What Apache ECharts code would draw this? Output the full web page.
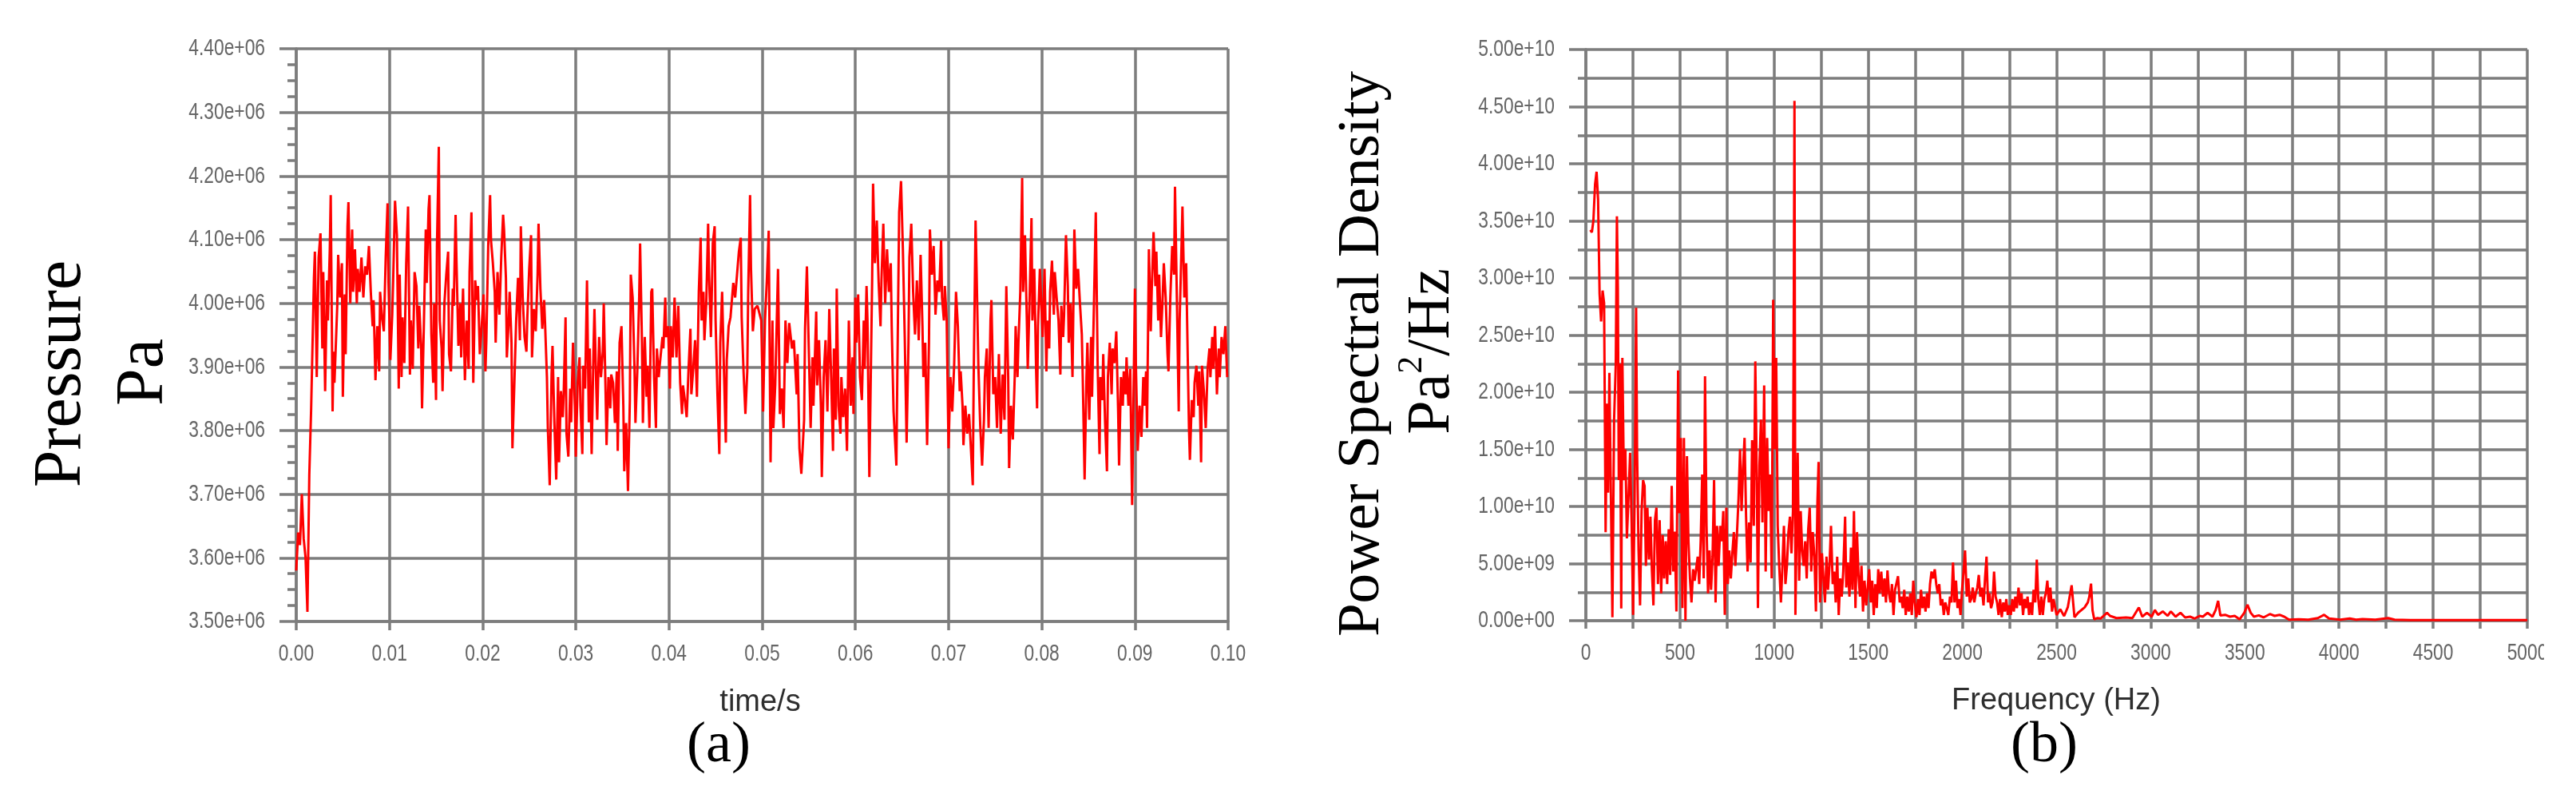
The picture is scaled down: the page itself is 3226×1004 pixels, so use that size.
<!DOCTYPE html>
<html><head><meta charset="utf-8">
<script src="https://cdn.jsdelivr.net/npm/echarts@6/dist/echarts.min.js"></script>
<style>html,body{margin:0;padding:0;background:#fff}#c{width:3226px;height:1004px}</style>
</head><body><div id="c"></div>
<script>
// ---------- (a) pressure vs time ----------
const timeMs = [
0,0.2,0.4,0.6,0.8,1.0,1.2,1.4,1.6,1.9,
2.0,2.2,2.4,2.6,2.8,2.9,3.1,3.3,3.4,3.6,
3.7,3.9,4.0,4.1,4.4,4.5,4.7,4.9,5.0,5.2,
5.3,5.5,5.6,5.8,6.0,6.1,6.3,6.5,6.6,6.8,
7.0,7.2,7.4,7.6,7.8,8.0,8.2,8.3,8.5,8.7,
8.9,9.0,9.2,9.4,9.6,9.8,9.9,10.1,10.3,10.4,
10.6,10.8,11.0,11.1,11.3,11.4,11.6,11.8,12.0,12.2,
12.3,12.5,12.7,12.9,13.1,13.2,13.4,13.5,13.7,13.9,
14.0,14.2,14.3,14.5,14.7,14.8,15.0,15.1,15.3,15.4,
15.6,15.7,15.9,16.1,16.3,16.4,16.6,16.8,16.9,17.1,
17.2,17.4,17.6,17.7,17.9,18.1,18.3,18.5,18.6,18.8,
19.0,19.2,19.4,19.5,19.7,19.9,20.1,20.3,20.4,20.6,
20.8,20.9,21.1,21.3,21.4,21.6,21.8,22.0,22.2,22.3,
22.5,22.6,22.8,22.9,23.1,23.2,23.4,23.6,23.8,24.0,
24.1,24.3,24.5,24.7,24.8,25.0,25.2,25.3,25.5,25.7,
25.9,26.0,26.2,26.4,26.6,26.7,26.9,27.0,27.2,27.4,
27.5,27.7,27.9,28.1,28.2,28.4,28.6,28.7,28.9,29.0,
29.2,29.4,29.5,29.7,29.9,30.0,30.2,30.4,30.5,30.7,
30.8,31.0,31.2,31.4,31.5,31.7,31.9,32.0,32.2,32.3,
32.5,32.7,32.9,33.0,33.2,33.3,33.5,33.7,33.8,34.0,
34.2,34.4,34.5,34.7,34.9,35.1,35.2,35.4,35.6,35.8,
35.9,36.1,36.3,36.4,36.6,36.8,36.9,37.1,37.2,37.4,
37.6,37.7,37.9,38.1,38.2,38.4,38.6,38.7,38.9,39.0,
39.3,39.4,39.6,39.7,39.9,40.1,40.2,40.4,40.6,40.8,
41.0,41.2,41.4,41.5,41.7,41.9,42.1,42.3,42.4,42.6,
42.8,43.0,43.2,43.4,43.5,43.7,43.8,44.0,44.2,44.3,
44.5,44.7,44.9,45.0,45.2,45.4,45.5,45.7,45.9,46.1,
46.2,46.4,46.6,46.8,46.9,47.1,47.3,47.5,47.7,47.8,
48.0,48.2,48.4,48.5,48.7,48.8,49.0,49.2,49.5,49.9,
50.1,50.3,50.5,50.7,50.9,51.1,51.2,51.4,51.7,51.9,
52.1,52.3,52.5,52.7,52.9,53.2,53.4,53.7,53.8,54.0,
54.2,54.5,54.6,54.8,55.0,55.2,55.4,55.5,55.8,55.9,
56.1,56.3,56.4,56.6,56.8,57.0,57.2,57.4,57.6,57.7,
57.9,58.0,58.2,58.4,58.5,58.7,58.9,59.1,59.3,59.5,
59.7,59.8,60.0,60.1,60.3,60.5,60.7,60.9,61.0,61.2,
61.3,61.5,61.8,61.9,62.1,62.3,62.5,62.7,62.8,63.0,
63.2,63.4,63.6,63.8,63.9,64.1,64.4,64.5,64.7,64.9,
65.1,65.3,65.5,65.7,65.8,66.0,66.2,66.4,66.6,66.8,
67.0,67.2,67.3,67.5,67.7,67.9,68.0,68.2,68.4,68.6,
68.8,69.0,69.2,69.3,69.5,69.6,69.8,70.0,70.2,70.4,
70.6,70.8,71.0,71.2,71.3,71.5,71.6,71.8,72.0,72.2,
72.4,72.6,72.7,72.9,73.0,73.2,73.4,73.6,73.8,73.9,
74.1,74.3,74.5,74.6,74.8,75.0,75.2,75.4,75.6,75.8,
76.0,76.2,76.4,76.5,76.7,76.9,77.1,77.2,77.4,77.5,
77.7,77.9,78.0,78.2,78.4,78.5,78.7,78.9,79.0,79.2,
79.4,79.5,79.6,79.8,80.0,80.1,80.3,80.5,80.6,80.8,
80.9,81.1,81.3,81.4,81.6,81.8,82.0,82.1,82.3,82.4,
82.6,82.8,82.9,83.1,83.3,83.5,83.7,83.9,84.1,84.3,
84.4,84.6,84.8,84.9,85.1,85.3,85.4,85.6,85.8,86.0,
86.2,86.3,86.5,86.6,86.8,87.0,87.1,87.3,87.5,87.6,
87.8,88.0,88.2,88.3,88.5,88.7,88.8,89.0,89.1,89.3,
89.5,89.7,89.8,90.0,90.1,90.3,90.5,90.7,90.9,91.0,
91.2,91.3,91.5,91.7,91.8,92.0,92.2,92.3,92.5,92.6,
92.8,93.0,93.1,93.3,93.5,93.6,93.8,94.0,94.2,94.3,
94.5,94.7,94.8,95.0,95.1,95.3,95.5,95.6,95.8,95.9,
96.1,96.3,96.4,96.6,96.8,96.9,97.1,97.2,97.4,97.6,
97.8,98.0,98.1,98.3,98.4,98.6,98.8,99.0,99.1,99.3,
99.5,99.7,99.9
];
// pressure in units of 1e+06 Pa
const pressureE6 = [
3.58,3.64,3.62,3.70,3.63,3.60,3.515,3.73,3.835,4.040,
4.081,3.884,4.072,4.110,3.929,4.049,3.862,4.036,3.973,4.085,
4.170,3.830,3.924,3.875,3.996,4.076,4.009,4.063,3.853,4.014,
3.920,4.121,4.159,4.000,4.116,4.018,4.085,4.000,4.054,4.018,
4.072,4.009,4.058,4.045,4.090,4.018,3.964,4.005,3.879,3.964,
3.893,4.018,3.978,3.956,4.072,4.157,4.032,3.911,3.982,4.036,
4.161,4.107,3.866,4.045,3.884,3.978,3.906,4.063,4.152,3.888,
3.973,3.897,4.049,4.027,3.929,3.996,3.933,3.835,3.969,4.116,
4.032,4.148,4.170,3.951,3.875,4.000,3.848,4.090,4.246,3.973,
3.929,3.862,4.000,4.045,4.081,3.920,3.893,4.023,3.996,4.139,
4.063,3.933,4.000,3.915,4.023,3.879,3.973,3.897,4.049,4.143,
3.875,4.036,4.005,4.027,3.920,3.964,4.014,3.893,3.942,4.090,
4.170,4.099,4.063,4.018,3.938,4.049,3.982,4.072,4.139,4.116,
4.040,3.915,3.973,4.018,3.938,3.772,3.871,3.973,4.040,3.942,
4.121,4.009,3.947,3.924,3.978,4.054,4.107,3.915,3.991,3.956,
4.045,4.125,4.023,3.960,4.005,3.969,3.884,3.804,3.714,3.888,
3.933,3.813,3.723,3.884,3.750,3.862,3.821,3.857,3.978,3.795,
3.759,3.866,3.813,3.938,3.839,3.759,3.875,3.915,3.839,3.763,
3.902,3.866,4.036,3.813,3.929,3.763,3.929,3.991,3.866,3.817,
3.947,3.884,3.924,4.000,3.857,3.777,3.884,3.835,3.888,3.875,
3.812,3.893,3.768,3.938,3.964,3.839,3.736,3.812,3.705,3.848,
4.045,4.009,3.897,3.812,3.893,4.009,4.094,3.938,3.812,3.947,
3.853,3.902,3.804,4.018,4.023,3.884,3.804,3.929,3.884,3.902,
3.947,3.929,4.009,3.947,3.964,3.866,3.964,3.915,4.009,3.915,
3.996,3.875,3.826,3.871,3.848,3.821,3.897,3.960,3.857,3.897,
3.942,3.853,4.018,4.103,3.973,4.018,3.942,4.000,4.125,4.045,
3.947,4.094,4.121,3.973,3.857,3.763,3.938,4.018,3.893,3.781,
3.911,3.964,3.978,4.014,4.032,4.009,4.045,4.081,4.103,3.978,
3.893,3.826,3.893,4.018,4.170,4.054,3.956,3.991,3.996,3.973,
3.830,3.973,4.036,4.114,3.750,3.973,3.804,3.871,4.054,3.826,
3.866,3.804,3.973,3.906,3.969,3.929,3.942,3.857,3.920,3.772,
3.732,3.817,3.960,4.058,3.929,3.804,3.915,3.839,3.987,3.871,
3.942,3.839,3.727,3.884,3.942,3.830,3.991,3.884,3.768,3.929,
3.817,4.023,3.839,3.795,3.884,3.821,3.866,3.768,3.973,3.839,
3.915,3.826,4.009,3.938,4.014,3.884,3.848,3.973,3.897,4.027,
3.973,3.727,4.036,4.188,4.063,4.130,4.032,3.964,4.036,4.125,
4.000,4.085,4.018,4.063,3.964,3.830,3.745,3.884,4.143,4.192,
4.085,3.947,3.781,3.938,4.072,4.125,4.018,3.951,4.036,3.942,
4.076,3.964,3.884,3.938,3.777,3.938,4.116,4.045,4.090,3.982,
4.036,4.018,4.099,4.009,3.973,4.027,3.973,3.772,3.884,3.830,
3.902,4.018,3.964,3.862,3.893,3.839,3.777,3.839,3.795,3.826,
3.772,3.714,3.884,4.130,4.058,3.902,3.808,3.745,3.817,3.884,
3.929,3.804,3.973,4.005,3.857,3.884,3.804,3.920,3.795,3.888,
3.817,4.027,3.884,3.741,3.839,3.786,3.884,3.964,3.884,3.938,
4.018,4.197,4.018,4.107,3.973,3.897,4.009,4.134,3.973,4.054,
3.893,3.835,3.964,4.054,3.982,3.947,4.054,3.893,3.973,3.929,
4.018,4.067,3.982,4.049,4.009,3.973,3.888,3.996,3.947,3.982,
4.107,4.027,3.938,4.000,3.884,4.116,4.023,4.054,4.000,3.951,
3.884,3.723,3.884,3.938,3.817,3.947,3.853,3.996,4.143,3.902,
3.763,3.884,3.848,3.920,3.812,3.736,3.884,3.938,3.857,3.929,
3.906,3.956,3.830,3.745,3.884,3.839,3.893,3.857,3.915,3.839,
3.897,3.683,3.795,4.023,3.906,3.768,3.839,3.790,3.884,3.839,
3.893,3.804,4.085,3.956,4.018,4.112,4.027,4.081,3.973,4.045,
3.947,4.018,4.063,4.009,3.920,3.893,4.009,4.090,4.045,4.183,
4.009,3.830,3.973,4.090,4.152,4.009,4.063,3.973,3.804,3.754,
3.848,3.821,3.875,3.902,3.839,3.893,3.750,3.902,3.862,3.804,
3.897,3.929,3.884,3.947,3.897,3.964,3.857,3.929,3.884,3.947,
3.920,3.964,3.884
];
const timeTicksMs = [0,10,20,30,40,50,60,70,80,90,100];
const pressureTicksE6 = [3.5,3.6,3.7,3.8,3.9,4.0,4.1,4.2,4.3,4.4];

// ---------- (b) power spectral density ----------
const freqHz = [
24,32,40,49,57,65,73,81,89,97,
105,112,118,125,133,141,150,159,165,170,
175,181,188,194,202,210,218,227,235,243,
251,259,267,272,280,288,296,304,312,319,
327,335,343,351,359,367,375,383,392,400,
408,416,424,432,440,448,456,464,472,481,
490,497,505,513,521,529,537,545,553,561,
570,578,586,594,602,610,618,626,633,641,
649,657,665,673,681,689,697,705,714,722,
730,738,746,754,762,770,778,786,794,803,
811,819,827,835,843,851,859,867,875,883,
892,900,908,914,922,930,938,947,955,963,
971,979,987,995,1003,1011,1019,1027,1036,1044,
1052,1060,1068,1076,1084,1092,1100,1104,1108,1113,
1125,1133,1141,1149,1157,1165,1173,1181,1189,1197,
1205,1214,1222,1230,1236,1244,1254,1262,1270,1278,
1286,1294,1302,1311,1319,1327,1335,1343,1351,1359,
1367,1377,1383,1391,1400,1408,1416,1424,1432,1440,
1448,1456,1464,1472,1480,1489,1497,1505,1513,1521,
1529,1537,1545,1553,1561,1569,1578,1586,1594,1602,
1610,1618,1626,1634,1642,1650,1658,1667,1675,1683,
1691,1699,1707,1715,1723,1731,1739,1747,1756,1764,
1772,1780,1788,1796,1804,1812,1820,1828,1836,1845,
1853,1861,1869,1877,1885,1893,1901,1909,1917,1925,
1934,1942,1950,1958,1966,1974,1982,1990,1998,2006,
2014,2023,2031,2039,2047,2055,2063,2071,2079,2087,
2095,2103,2112,2120,2128,2136,2144,2152,2160,2168,
2176,2184,2192,2200,2209,2217,2225,2233,2241,2249,
2257,2265,2273,2281,2289,2298,2306,2314,2322,2330,
2338,2346,2354,2362,2370,2378,2387,2395,2403,2411,
2419,2427,2435,2443,2451,2459,2467,2476,2484,2500,
2520,2540,2560,2580,2595,2615,2649,2666,2674,2683,
2691,2700,2717,2734,2768,2784,2818,2869,2903,2937,
2955,2980,3005,3022,3039,3064,3090,3107,3132,3158,
3183,3209,3234,3260,3277,3302,3328,3345,3358,3370,
3395,3421,3446,3472,3497,3514,3531,3548,3574,3599,
3633,3658,3684,3709,3735,3786,3837,3888,3921,3947,
4006,4057,4091,4125,4193,4261,4295,4380,4464,4634,
4804,5000
];
// PSD in units of 1e+10 Pa^2/Hz
const psdE10 = [
3.42,3.40,3.50,3.82,3.93,3.69,2.86,2.62,2.89,2.78,
0.775,1.90,1.12,2.17,1.10,0.03,1.76,2.25,3.54,2.91,
1.23,2.25,0.107,2.30,1.23,1.50,0.72,1.10,1.47,0.86,
0.05,1.07,2.74,1.50,0.615,0.134,0.96,1.23,1.18,0.48,
0.99,0.535,0.91,0.43,0.134,0.88,0.99,0.32,0.88,0.24,
0.75,0.37,0.695,0.32,0.80,0.40,1.18,0.43,0.78,0.08,
2.19,0.94,1.60,0.11,1.60,0.0,1.44,0.695,0.37,0.16,
0.45,0.35,0.455,0.56,0.32,0.70,1.28,0.37,2.14,0.83,
0.24,0.615,0.27,0.56,1.23,0.16,0.83,0.48,0.83,0.695,
0.96,0.05,0.99,0.32,0.615,0.37,0.59,0.775,0.48,0.775,
1.07,1.50,0.96,1.34,1.60,0.91,0.43,0.86,0.51,1.58,
0.83,2.27,1.23,0.11,1.36,1.76,0.86,2.06,0.43,1.60,
0.96,1.28,0.37,2.81,1.50,2.30,0.83,0.48,0.16,0.48,
0.83,0.32,0.48,0.775,0.91,0.59,0.96,2.57,4.55,0.05,
1.47,0.35,0.96,0.615,0.48,0.695,0.37,0.80,0.99,0.43,
0.775,0.56,0.08,1.04,1.39,0.16,0.59,0.37,0.16,0.56,
0.27,0.48,0.83,0.32,0.43,0.16,0.56,0.05,0.37,0.21,
0.43,0.91,0.29,0.51,0.21,0.64,0.27,0.96,0.11,0.775,
0.40,0.21,0.48,0.08,0.35,0.134,0.29,0.45,0.16,0.35,
0.05,0.32,0.11,0.45,0.24,0.43,0.21,0.37,0.16,0.44,
0.24,0.16,0.32,0.05,0.27,0.27,0.39,0.16,0.21,0.11,
0.27,0.05,0.21,0.08,0.24,0.05,0.35,0.16,0.03,0.19,
0.05,0.27,0.11,0.21,0.08,0.24,0.11,0.32,0.43,0.37,
0.45,0.32,0.24,0.32,0.134,0.19,0.05,0.16,0.11,0.05,
0.21,0.16,0.51,0.16,0.35,0.11,0.19,0.05,0.27,0.43,
0.615,0.21,0.37,0.16,0.19,0.29,0.16,0.24,0.29,0.40,
0.21,0.29,0.134,0.37,0.56,0.16,0.24,0.11,0.16,0.43,
0.21,0.16,0.05,0.19,0.03,0.16,0.08,0.19,0.05,0.134,
0.05,0.19,0.08,0.21,0.11,0.29,0.134,0.24,0.05,0.19,
0.11,0.21,0.05,0.16,0.05,0.27,0.16,0.535,0.19,0.05,
0.21,0.05,0.19,0.24,0.35,0.16,0.29,0.08,0.19,0.05,
0.10,0.04,0.12,0.31,0.03,0.07,0.116,0.16,0.21,0.324,
0.09,0.012,0.023,0.019,0.069,0.042,0.023,0.028,0.023,0.116,
0.035,0.069,0.035,0.093,0.051,0.081,0.042,0.081,0.035,0.069,
0.028,0.035,0.019,0.042,0.035,0.069,0.035,0.093,0.174,0.046,
0.051,0.035,0.042,0.012,0.069,0.139,0.069,0.035,0.046,0.028,
0.058,0.042,0.051,0.035,0.009,0.012,0.009,0.023,0.051,0.019,
0.009,0.019,0.009,0.014,0.009,0.023,0.009,0.005,0.005,0.005,
0.005,0.005
];
const freqTicksHz = [0,500,1000,1500,2000,2500,3000,3500,4000,4500,5000];
const psdTicksE10 = [0,0.5,1,1.5,2,2.5,3,3.5,4,4.5,5];

const seriesA = [];
for (let i = 0; i < Math.min(timeMs.length, pressureE6.length); i++) seriesA.push([timeMs[i], pressureE6[i]]);
const seriesB = [];
for (let i = 0; i < Math.min(freqHz.length, psdE10.length); i++) seriesB.push([freqHz[i], psdE10[i]]);

const GRIDC = '#7d7d7d';
const gl = { color: GRIDC, width: 3.5 };
const LABEL_FONT = '30px "Liberation Sans", Arial, sans-serif';
const LABEL_COLOR = '#666666';
const LABEL_SCALE = 0.76;

const chart = echarts.init(document.getElementById('c'), null, { renderer: 'canvas' });

const baseGraphic = [
  { type: 'text', x: 78, y: 468, rotation: Math.PI / 2,
    style: { text: 'Pressure', font: '84px "Liberation Serif", serif', fill: '#000', align: 'center', verticalAlign: 'middle' } },
  { type: 'text', x: 181, y: 466, rotation: Math.PI / 2,
    style: { text: 'Pa', font: '84px "Liberation Serif", serif', fill: '#000', align: 'center', verticalAlign: 'middle' } },
  { type: 'text', x: 1706, y: 443, rotation: Math.PI / 2,
    style: { text: 'Power Spectral Density', font: '75px "Liberation Serif", serif', fill: '#000', align: 'center', verticalAlign: 'middle' } },
  { type: 'text', x: 1789, y: 440, rotation: Math.PI / 2,
    style: { text: '{a|Pa}{s|2}{a|/Hz}', align: 'center', verticalAlign: 'middle',
      rich: { a: { fontFamily: '"Liberation Serif", serif', fontSize: 76, fill: '#000', lineHeight: 86, verticalAlign: 'bottom' },
              s: { fontFamily: '"Liberation Serif", serif', fontSize: 44, fill: '#000', lineHeight: 44, verticalAlign: 'top' } } } },
  { type: 'text', x: 952, y: 880,
    style: { text: 'time/s', font: '38px "Liberation Sans", sans-serif', fill: '#2e2e2e', align: 'center', verticalAlign: 'middle' } },
  { type: 'text', x: 2575, y: 878,
    style: { text: 'Frequency (Hz)', font: '38px "Liberation Sans", sans-serif', fill: '#2e2e2e', align: 'center', verticalAlign: 'middle' } },
  { type: 'text', x: 900, y: 934,
    style: { text: '(a)', font: '72px "Liberation Serif", serif', fill: '#000', align: 'center', verticalAlign: 'middle' } },
  { type: 'text', x: 2560, y: 934,
    style: { text: '(b)', font: '72px "Liberation Serif", serif', fill: '#000', align: 'center', verticalAlign: 'middle' } }
];

chart.setOption({
  animation: false,
  backgroundColor: '#ffffff',
  grid: [
    { left: 371, top: 61, width: 1167, height: 717 },
    { left: 1986, top: 62, width: 1179, height: 715 }
  ],
  xAxis: [
    { gridIndex: 0, type: 'value', min: 0, max: 100, interval: 10,
      axisLine: { show: true, lineStyle: gl },
      axisTick: { show: true, length: 11, lineStyle: gl },
      axisLabel: { show: false },
      splitLine: { show: true, lineStyle: gl } },
    { gridIndex: 1, type: 'value', min: 0, max: 5000, interval: 500,
      axisLine: { show: true, lineStyle: gl },
      axisTick: { show: true, length: 10, lineStyle: gl },
      minorTick: { show: true, splitNumber: 2, length: 10, lineStyle: gl },
      axisLabel: { show: false },
      splitLine: { show: true, lineStyle: gl },
      minorSplitLine: { show: true, lineStyle: gl } }
  ],
  yAxis: [
    { gridIndex: 0, type: 'value', min: 3.5, max: 4.4, interval: 0.1,
      axisLine: { show: true, lineStyle: gl },
      axisTick: { show: true, length: 21, lineStyle: gl },
      minorTick: { show: true, splitNumber: 4, length: 11, lineStyle: gl },
      axisLabel: { show: false },
      splitLine: { show: true, lineStyle: gl } },
    { gridIndex: 1, type: 'value', min: 0, max: 5, interval: 0.5,
      axisLine: { show: true, lineStyle: gl },
      axisTick: { show: true, length: 21, lineStyle: gl },
      minorTick: { show: true, splitNumber: 2, length: 10, lineStyle: gl },
      axisLabel: { show: false },
      splitLine: { show: true, lineStyle: gl },
      minorSplitLine: { show: true, lineStyle: gl } }
  ],
  series: [
    { type: 'line', xAxisIndex: 0, yAxisIndex: 0, data: seriesA, showSymbol: false, symbol: 'none',
      lineStyle: { color: '#ff0000', width: 3 }, z: 5 },
    { type: 'line', xAxisIndex: 1, yAxisIndex: 1, data: seriesB, showSymbol: false, symbol: 'none',
      lineStyle: { color: '#ff0000', width: 3 }, z: 5 }
  ],
  graphic: baseGraphic
});

// Tick labels: positioned through the axes' own scales (convertToPixel), drawn horizontally condensed
function lbl(x, y, text, align, vAlign) {
  return { type: 'text', x: x, y: y, scaleX: LABEL_SCALE, z: 50,
    style: { text: text, font: LABEL_FONT, fill: LABEL_COLOR, align: align, verticalAlign: vAlign } };
}
const labels = [];
timeTicksMs.forEach(v => {
  const p = chart.convertToPixel({ gridIndex: 0 }, [v, 3.5]);
  labels.push(lbl(p[0], p[1] + 26, (v / 1000).toFixed(2), 'center', 'top'));
});
pressureTicksE6.forEach(v => {
  const p = chart.convertToPixel({ gridIndex: 0 }, [0, v]);
  labels.push(lbl(p[0] - 39, p[1], v.toFixed(2) + 'e+06', 'right', 'middle'));
});
freqTicksHz.forEach(v => {
  const p = chart.convertToPixel({ gridIndex: 1 }, [v, 0]);
  labels.push(lbl(p[0], p[1] + 26, String(v), 'center', 'top'));
});
psdTicksE10.forEach(v => {
  const p = chart.convertToPixel({ gridIndex: 1 }, [0, v]);
  const t = v === 0 ? '0.00e+00' : (v < 1 ? (v * 10).toFixed(2) + 'e+09' : v.toFixed(2) + 'e+10');
  labels.push(lbl(p[0] - 39, p[1], t, 'right', 'middle'));
});
// the source picture is cut off just right of the last frequency label
labels.push({ type: 'rect', shape: { x: 3186, y: 792, width: 40, height: 50 }, style: { fill: '#ffffff' }, z: 100 });

chart.setOption({ graphic: baseGraphic.concat(labels) });
</script></body></html>
